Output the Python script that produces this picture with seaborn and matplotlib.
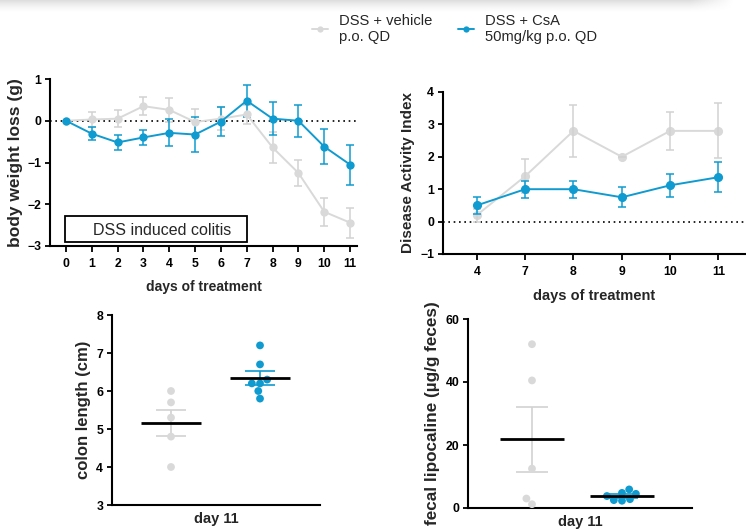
import numpy as np
import pandas as pd
import matplotlib
matplotlib.use("Agg")
import matplotlib.pyplot as plt
from matplotlib.lines import Line2D
from matplotlib.patches import Rectangle
import seaborn as sns

# ---------------- data ----------------
days = [0, 1, 2, 3, 4, 5, 6, 7, 8, 9, 10, 11]
bw_vehicle = [0.0, 0.03, 0.05, 0.35, 0.26, -0.03, 0.05, 0.15, -0.64, -1.25, -2.18, -2.44]
bw_vehicle_err = [0.0, 0.18, 0.20, 0.22, 0.29, 0.31, 0.28, 0.22, 0.38, 0.32, 0.33, 0.36]
bw_csa = [0.0, -0.31, -0.52, -0.40, -0.29, -0.33, -0.02, 0.48, 0.05, 0.0, -0.62, -1.05]
bw_csa_err = [0.0, 0.16, 0.17, 0.19, 0.32, 0.42, 0.35, 0.38, 0.40, 0.38, 0.42, 0.48]

dai_days = ["4", "7", "8", "9", "10", "11"]
dai_vehicle = [0.2, 1.4, 2.8, 2.0, 2.8, 2.8]
dai_vehicle_err = [0.2, 0.52, 0.8, 0.0, 0.58, 0.85]
dai_csa = [0.5, 1.0, 1.0, 0.75, 1.12, 1.37]
dai_csa_err = [0.27, 0.26, 0.26, 0.31, 0.36, 0.46]

colon_vehicle = [6.0, 5.7, 5.3, 4.8, 4.0]
colon_csa = [7.2, 6.7, 6.3, 6.2, 6.2, 6.0, 5.8]

lcn2_vehicle = [52.0, 40.5, 12.5, 3.0, 1.2]
lcn2_csa = [4.5, 2.3, 3.8, 4.8, 2.5, 5.9, 2.8]

groups = ["DSS + vehicle\np.o. QD", "DSS + CsA\n50mg/kg p.o. QD"]

GRAY = "#d9d9d9"
GRAY_ERR = "#d2d2d2"
BLUE = "#0f9bd0"

# ---------------- style ----------------
sns.set_theme(style="ticks")
plt.rcParams["font.family"] = ["Liberation Sans", "DejaVu Sans"]
plt.rcParams["axes.linewidth"] = 1.5
plt.rcParams["xtick.major.width"] = 1.3
plt.rcParams["ytick.major.width"] = 1.3
plt.rcParams["xtick.major.size"] = 4.3
plt.rcParams["ytick.major.size"] = 3.8
plt.rcParams["xtick.color"] = "black"
plt.rcParams["ytick.color"] = "black"
plt.rcParams["axes.edgecolor"] = "black"

W, H = 746, 529
fig = plt.figure(figsize=(W / 100, H / 100), dpi=100)
fig.patch.set_facecolor("white")


def px_axes(left, top, right, bottom):
    return fig.add_axes([left / W, 1 - bottom / H, (right - left) / W, (bottom - top) / H])


def style_ax(ax, tick_fs=8.8):
    sns.despine(ax=ax)
    ax.tick_params(axis="both", labelsize=tick_fs, direction="out")
    ax.tick_params(axis="x", pad=4.5)
    ax.tick_params(axis="y", pad=2.5)
    for lab in ax.get_xticklabels() + ax.get_yticklabels():
        lab.set_fontweight("bold")


# top shadow
sh = fig.add_axes([0, 1 - 14 / H, 1, 14 / H])
yy = np.linspace(0, 1, 14)[:, None]
xx = np.linspace(0, 1, 746)[None, :]
fade_x = np.clip((0.985 - xx) / 0.06, 0, 1)
alpha = (1 - yy) ** 1.6 * 0.13 * fade_x
img = np.zeros((14, 746, 4))
img[..., 3] = alpha
sh.imshow(img, aspect="auto", interpolation="bilinear")
sh.axis("off")

# ---------------- panel 1: body weight ----------------
ax1 = px_axes(50, 79, 357, 246)
ax1.axhline(0, color="black", linestyle=(0, (1, 2.2)), linewidth=1.2, zorder=1)
for vals, errs, col, ecol in [(bw_vehicle, bw_vehicle_err, GRAY, GRAY_ERR),
                              (bw_csa, bw_csa_err, BLUE, BLUE)]:
    ax1.errorbar(days, vals, yerr=errs, fmt="none", ecolor=ecol, elinewidth=1.1,
                 capsize=3, capthick=1.1, zorder=2)
    sns.lineplot(x=days, y=vals, color=col, marker="o", markersize=6,
                 markeredgewidth=0, linewidth=1.4, ax=ax1, zorder=3)
ax1.set_xlim(-0.62, 11.27)
ax1.set_ylim(-3, 1)
ax1.set_xticks(days)
ax1.set_yticks([-3, -2, -1, 0, 1])
ax1.add_patch(Rectangle((-0.03, -2.9), 7.03, 0.62, facecolor="white",
                        edgecolor="black", linewidth=1.3, zorder=5))
ax1.text(3.72, -2.62, "DSS induced colitis", ha="center", va="center",
         fontsize=11.5, zorder=6)
ax1.set_xlabel("days of treatment", fontsize=10, fontweight="bold", labelpad=7)
ax1.set_ylabel("body weight loss (g)", fontsize=12.5, fontweight="bold", labelpad=3)
style_ax(ax1)

# ---------------- panel 2: DAI ----------------
ax2 = px_axes(443, 92, 746, 254)
ax2.axhline(0, color="black", linestyle=(0, (1, 2.2)), linewidth=1.2, zorder=1)
for vals, errs, col, ecol in [(dai_vehicle, dai_vehicle_err, GRAY, GRAY_ERR),
                              (dai_csa, dai_csa_err, BLUE, BLUE)]:
    sns.pointplot(x=dai_days, y=vals, order=dai_days, color=col, errorbar=None,
                  markers="o", markersize=5.5, linewidth=1.4, ax=ax2)
    ax2.errorbar(range(len(dai_days)), vals, yerr=errs, fmt="none", ecolor=ecol,
                 elinewidth=1.1, capsize=3, capthick=1.1, zorder=2)
ax2.set_xlim(-0.7, 5.57)
ax2.set_ylim(-1, 4)
ax2.set_yticks([-1, 0, 1, 2, 3, 4])
ax2.set_xlabel("days of treatment", fontsize=10.5, fontweight="bold", labelpad=8)
ax2.set_ylabel("Disease Activity Index", fontsize=11, fontweight="bold", labelpad=4)
style_ax(ax2)


# ---------------- scatter panels ----------------
def scatter_panel(ax, v_vals, c_vals, mean_w, cap):
    df = pd.DataFrame({
        "group": [groups[0]] * len(v_vals) + [groups[1]] * len(c_vals),
        "value": v_vals + c_vals,
    })
    sns.swarmplot(data=df, x="group", y="value", hue="group", order=groups,
                  palette=[GRAY, BLUE], size=5.6, linewidth=0, legend=False,
                  ax=ax, zorder=3)
    for i, (vals, col) in enumerate([(v_vals, GRAY_ERR), (c_vals, BLUE)]):
        arr = np.asarray(vals)
        m = arr.mean()
        se = arr.std(ddof=1) / np.sqrt(len(arr))
        ax.errorbar([i], [m], yerr=[se], fmt="none", ecolor=col, elinewidth=1.2,
                    capsize=cap, capthick=1.2, zorder=2)
        ax.hlines(m, i - mean_w / 2, i + mean_w / 2, color="black", linewidth=2,
                  zorder=4)
    ax.set_xticks([])
    ax.set_xlabel("day 11", fontsize=10.5, fontweight="bold", labelpad=5)


ax3 = px_axes(112, 315, 320, 505)
scatter_panel(ax3, colon_vehicle, colon_csa, 0.67, 11)
ax3.set_xlim(-0.663, 1.674)
ax3.set_ylim(3, 8)
ax3.set_yticks([3, 4, 5, 6, 7, 8])
ax3.set_ylabel("colon length (cm)", fontsize=12, fontweight="bold", labelpad=4)
style_ax(ax3)

ax4 = px_axes(468, 319, 692, 508)
scatter_panel(ax4, lcn2_vehicle, lcn2_csa, 0.72, 11.5)
ax4.set_xlim(-0.711, 1.778)
ax4.set_ylim(0, 60)
ax4.set_yticks([0, 20, 40, 60])
ax4.set_ylabel("fecal lipocaline (µg/g feces)", fontsize=12.3, fontweight="bold",
               labelpad=4)
style_ax(ax4)

# ---------------- legend ----------------
handles = [
    Line2D([0], [0], color=GRAY, marker="o", markersize=4.5, markeredgewidth=0, linewidth=1.4),
    Line2D([0], [0], color=BLUE, marker="o", markersize=4.5, markeredgewidth=0, linewidth=1.4),
]
fig.legend(handles, groups, loc="upper left", bbox_to_anchor=(312 / W, 1 - 14 / H),
           ncol=2, frameon=False, fontsize=10.6, handlelength=1.1,
           handletextpad=0.75, columnspacing=1.7, borderpad=0, borderaxespad=0,
           labelspacing=0.3)

fig.savefig("out.png", dpi=100, facecolor="white")
